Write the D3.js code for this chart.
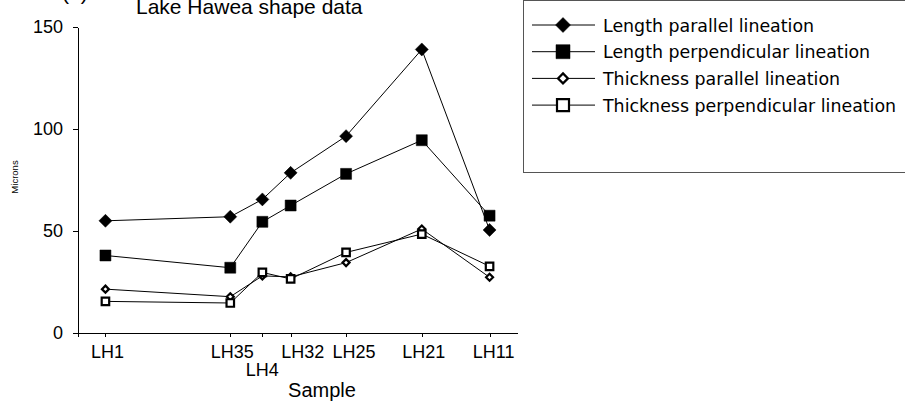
<!DOCTYPE html>
<html>
<head>
<meta charset="utf-8">
<script src="https://cdn.jsdelivr.net/npm/d3@7/dist/d3.min.js"></script>
<style>
    body { margin: 0; background: #fff; }
    svg { display: block; }
    .axis text { font-family: "Liberation Sans", Arial, sans-serif; fill: #000; }
    .axis path, .axis line { stroke: #000; shape-rendering: crispEdges; }
</style>
</head>
<body>
<div id="chart"></div>
<script>
// samples along the lake, with their position on the x axis
var samples = ['LH1', 'LH35', 'LH4', 'LH32', 'LH25', 'LH21', 'LH11'];
var samplePos = [1, 5.55, 6.72, 7.75, 9.77, 12.53, 15];
var xDomain = [0, 16];

var yTicks = [0, 50, 100, 150];

// values in microns
var lengthParallel = [55, 57, 65.5, 78.5, 96.5, 139, 50.5];
var lengthPerpendicular = [38, 32, 54.5, 62.5, 78, 94.5, 57.5];
var thicknessParallel = [21.5, 17.8, 28, 27.5, 34.5, 51, 27.3];
var thicknessPerpendicular = [15.5, 14.7, 29.7, 26.5, 39.5, 48.5, 32.7];

var seriesNames = ['Length parallel lineation', 'Length perpendicular lineation',
    'Thickness parallel lineation', 'Thickness perpendicular lineation'];

var width = 905;
var height = 403;

var svg = d3.select('#chart').append('svg')
    .attr('width', width)
    .attr('height', height);

var xScale = d3.scaleLinear().domain(xDomain).range([78, 517]);
var yScale = d3.scaleLinear().domain([0, 150]).range([333, 27]);

// series with their marker styles
var series = [
    {name: seriesNames[0], values: lengthParallel, shape: 'diamond', filled: true, size: 13},
    {name: seriesNames[1], values: lengthPerpendicular, shape: 'square', filled: true, size: 11},
    {name: seriesNames[2], values: thicknessParallel, shape: 'diamond', filled: false, size: 9},
    {name: seriesNames[3], values: thicknessPerpendicular, shape: 'square', filled: false, size: 9.5}
];

function markerPath(shape, s) {
    var h = s / 2;
    if (shape === 'diamond') {
        return 'M0,' + (-h) + 'L' + h + ',0L0,' + h + 'L' + (-h) + ',0Z';
    }
    return 'M' + (-h) + ',' + (-h) + 'H' + h + 'V' + h + 'H' + (-h) + 'Z';
}

function drawMarker(g, d, size) {
    g.append('path')
        .attr('d', markerPath(d.shape, d.filled ? size : size - 2))
        .attr('fill', d.filled ? '#000' : '#fff')
        .attr('stroke', '#000')
        .attr('stroke-width', d.filled ? 0.5 : 2.2);
}

// title (the panel letter is clipped by the top edge, as in the original)
svg.append('text')
    .attr('x', 62)
    .attr('y', 0)
    .attr('font-family', '"Liberation Sans", Arial, sans-serif')
    .attr('font-size', 21)
    .text('(b)');
svg.append('text')
    .attr('x', 136)
    .attr('y', 14)
    .attr('font-family', '"Liberation Sans", Arial, sans-serif')
    .attr('font-size', 21)
    .text('Lake Hawea shape data');

// y axis
var yAxis = d3.axisLeft(yScale)
    .tickValues(yTicks)
    .tickSize(5)
    .tickSizeOuter(0)
    .tickPadding(10);
svg.append('g')
    .attr('class', 'axis')
    .attr('transform', 'translate(78,0)')
    .call(yAxis)
    .selectAll('text')
    .attr('font-size', 18);
svg.append('line')
    .attr('x1', 78).attr('x2', 78)
    .attr('y1', yScale(0)).attr('y2', yScale(0) + 4)
    .attr('stroke', '#000')
    .attr('shape-rendering', 'crispEdges');

// x axis
var xAxis = d3.axisBottom(xScale)
    .tickValues(samplePos)
    .tickSize(4)
    .tickSizeOuter(0)
    .tickFormat('');
svg.append('g')
    .attr('class', 'axis')
    .attr('transform', 'translate(0,' + yScale(0) + ')')
    .call(xAxis);

// tick labels, LH4 staggered onto a second row
var labelNudge = {LH1: 2, LH32: 12, LH25: 8, LH35: 2, LH21: 2, LH11: 4};
svg.append('g')
    .attr('class', 'axis')
    .selectAll('text')
    .data(samples)
    .join('text')
    .attr('x', function (d, i) { return xScale(samplePos[i]) + (labelNudge[d] || 0); })
    .attr('y', function (d) { return d === 'LH4' ? 376 : 358; })
    .attr('text-anchor', 'middle')
    .attr('font-size', 18)
    .text(function (d) { return d; });

// axis titles
svg.append('text')
    .attr('x', 322)
    .attr('y', 397)
    .attr('text-anchor', 'middle')
    .attr('font-family', '"Liberation Sans", Arial, sans-serif')
    .attr('font-size', 20)
    .text('Sample');
svg.append('text')
    .attr('transform', 'translate(17.5,177) rotate(-90)')
    .attr('text-anchor', 'middle')
    .attr('font-family', '"Liberation Sans", Arial, sans-serif')
    .attr('font-size', 9.5)
    .text('Microns');

// lines and markers
var line = d3.line()
    .x(function (d, i) { return xScale(samplePos[i]); })
    .y(function (d) { return yScale(d); });

series.forEach(function (s) {
    svg.append('path')
        .datum(s.values)
        .attr('fill', 'none')
        .attr('stroke', '#000')
        .attr('stroke-width', 1)
        .attr('d', line);
});
series.forEach(function (s) {
    s.values.forEach(function (v, i) {
        var g = svg.append('g')
            .attr('transform', 'translate(' + xScale(samplePos[i]) + ',' + yScale(v) + ')');
        drawMarker(g, s, s.size);
    });
});

// legend
var legend = svg.append('g');
legend.append('rect')
    .attr('x', 523.5)
    .attr('y', 0.5)
    .attr('width', 400)
    .attr('height', 172)
    .attr('fill', '#fff')
    .attr('stroke', '#555')
    .attr('stroke-width', 1);
var legendSizes = [15, 14, 12, 14];
series.forEach(function (s, i) {
    var y = 25 + i * 26.7;
    var item = legend.append('g').attr('transform', 'translate(0,' + y + ')');
    item.append('line')
        .attr('x1', 532).attr('x2', 595)
        .attr('y1', 0).attr('y2', 0)
        .attr('stroke', '#000');
    var m = item.append('g').attr('transform', 'translate(563,0)');
    drawMarker(m, s, legendSizes[i]);
    item.append('text')
        .attr('x', 603)
        .attr('y', 6.5)
        .attr('font-family', '"DejaVu Sans", sans-serif')
        .attr('font-size', 17.4)
        .text(s.name);
});
</script>
</body>
</html>
